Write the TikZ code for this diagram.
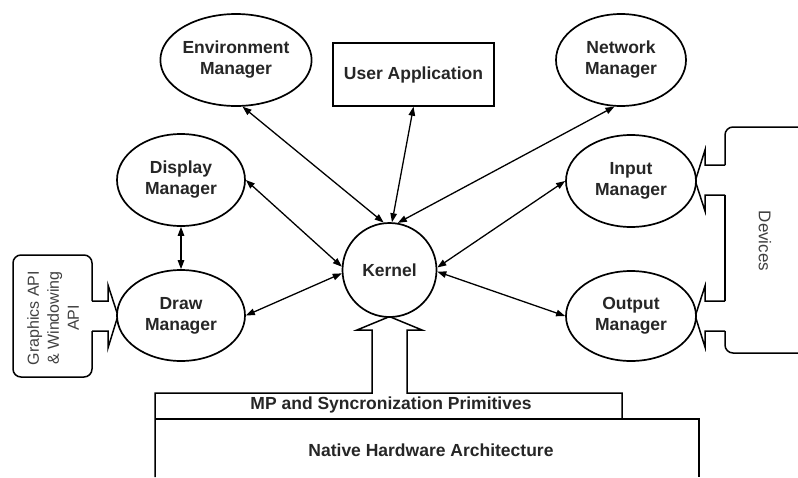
\documentclass[tikz,border=0pt]{standalone}
\usepackage{fontspec}
\setmainfont{Liberation Sans}
\usetikzlibrary{arrows.meta,shapes.geometric}
\tikzset{
  mgr/.style={ellipse,draw,line width=1.7pt,fill=white,inner sep=0pt,align=center,
    font=\fontsize{17.5}{21}\selectfont\bfseries,text=black!85},
  boxtext/.style={font=\fontsize{17.5}{21}\selectfont\bfseries,text=black!85},
  link/.style={line width=1.3pt,{Triangle[length=9pt,width=6.5pt]}-{Triangle[length=9pt,width=6.5pt]}},
  outline/.style={line width=1.5pt},
  sidetext/.style={font=\fontsize{16}{20}\selectfont,text=black!75,align=center}
}
\begin{document}
\begin{tikzpicture}[x=1pt,y=-1pt]
\useasboundingbox (0,0) rectangle (798,477);
% bottom block arrow into kernel
\draw[outline] (155,477) -- (155,393) -- (372,393) -- (372,330) -- (357,330) -- (397,313.5);
\draw[outline] (382,313.5) -- (422,330) -- (407,330) -- (407,393) -- (622,393) -- (622,419);
\draw[outline] (155,419) -- (699,419) -- (699,477);
\node[boxtext] (mp) at (391,405) {MP and Syncronization Primitives};
\node[boxtext] (hw) at (431,450) {Native Hardware Architecture};
% graphics API box and tab
\draw[outline,rounded corners=8pt] (92,301) -- (92,255) -- (13,255) -- (13,377) -- (92,377) -- (92,331);
\draw[outline] (92,301) -- (108,301) -- (108,285) -- (120,322);
\draw[outline] (92,331) -- (108,331) -- (108,348) -- (120,309);
\node[sidetext,rotate=90] (gapi) at (53,318) {Graphics API\\\& Windowing\\API};
% devices box and tabs
\draw[outline,rounded corners=8pt] (725,165) -- (725,127) -- (810,127);
\draw[outline,rounded corners=8pt] (725,331) -- (725,353) -- (810,353);
\draw[outline] (725,195) -- (725,301);
\draw[outline] (725,165) -- (705,165) -- (705,150) -- (693,188);
\draw[outline] (725,195) -- (705,195) -- (705,211) -- (693,174);
\draw[outline] (725,301) -- (705,301) -- (705,286) -- (693,323);
\draw[outline] (725,331) -- (705,331) -- (705,347) -- (693,309);
\node[sidetext,rotate=-90,font=\fontsize{17}{20}\selectfont] (dev) at (765,241) {Devices};
% nodes
\node[mgr,minimum width=126pt,minimum height=92pt] (env) at (236,60) {Environment\\Manager};
\node[draw,line width=1.4pt,minimum width=161pt,minimum height=63pt,boxtext] (app) at (413.5,74.5) {User Application};
\node[mgr,minimum width=130pt,minimum height=92pt] (net) at (621,60) {Network\\Manager};
\node[mgr,minimum width=128pt,minimum height=92pt] (disp) at (181,180) {Display\\Manager};
\node[mgr,minimum width=130pt,minimum height=92pt] (inp) at (631,181) {Input\\Manager};
\node[mgr,minimum width=128pt,minimum height=91pt] (drawm) at (181,315.5) {Draw\\Manager};
\node[mgr,minimum width=130pt,minimum height=90pt] (outm) at (631,316) {Output\\Manager};
\node[mgr,circle,minimum size=94pt] (kern) at (389.5,270) {Kernel};
% connectors
\draw[link] (env.-82) -- (kern.97);
\draw[link] (app.south) -- (kern.87);
\draw[link] (net.-98) -- (kern.80);
\draw[link] (disp.east) -- (kern.176);
\draw[link] (drawm.east) -- (kern.184);
\draw[link] (inp.west) -- (kern.3);
\draw[link] (outm.west) -- (kern.-2);
\draw[link] (disp.south) -- (drawm.north);
\end{tikzpicture}
\end{document}
